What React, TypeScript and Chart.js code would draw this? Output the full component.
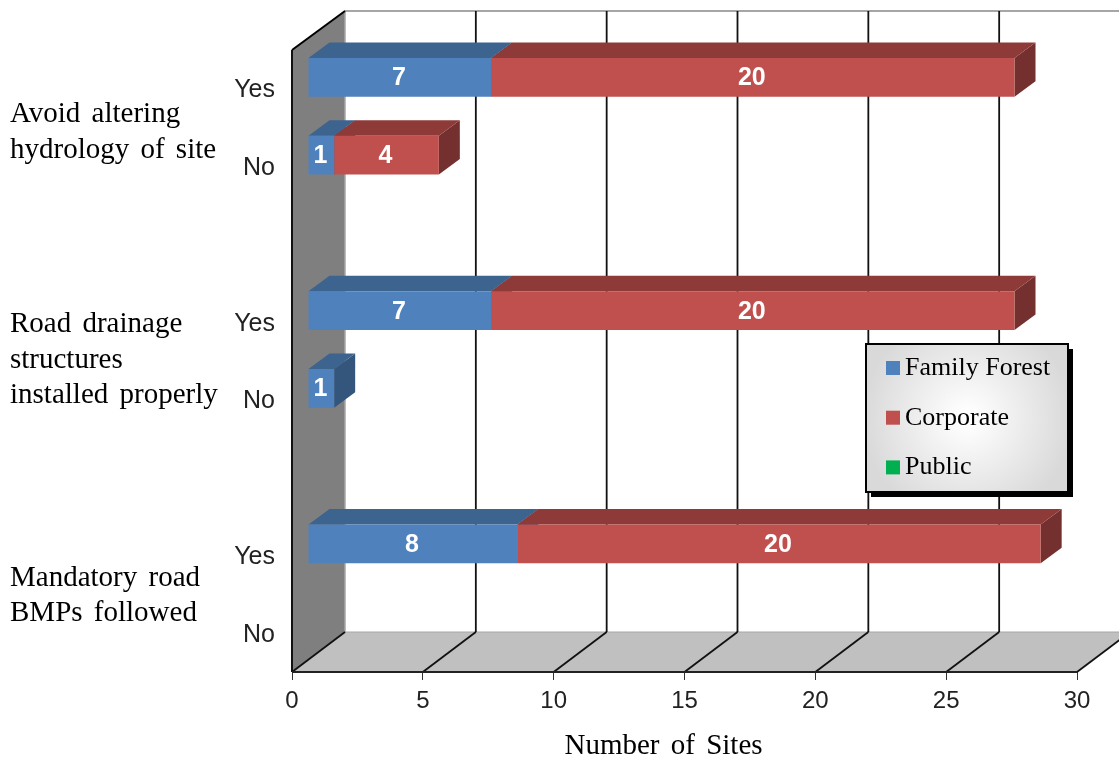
import React, { useEffect, useRef } from "react";
import { Chart, registerables } from "chart.js";

Chart.register(...registerables);

const categories = ["Yes", "No", "", "Yes", "No", "", "Yes", "No"];
const familyForest = [7, 1, null, 7, 1, null, 8, null];
const corporate = [20, 4, null, 20, null, null, 20, null];
const publicSites = [null, null, null, null, null, null, null, null];
const seriesNames = ["Family Forest", "Corporate", "Public"];
const seriesColors = ["#4f81bd", "#c0504d", "#00b050"];
const topColors = ["#3d638f", "#8e3a38", "#00843c"];
const sideColors = ["#34567d", "#73302e", "#00702f"];
const axisTitle = "Number of Sites";
const groupLabels = [
  { lines: ["Avoid altering", "hydrology of site"], ys: [114, 150] },
  { lines: ["Road drainage", "structures", "installed properly"], ys: [324, 360, 395] },
  { lines: ["Mandatory road", "BMPs followed"], ys: [578, 613] },
];

const SERIF = '"Liberation Serif", serif';
const SANS = '"Liberation Sans", sans-serif';
const WALL_DX = 53;
const WALL_DY = 40;
const BAR_SHIFT_X = 16;
const BAR_SHIFT_Y = 11.5;
const BAR_DX = 21;
const BAR_DY = 15.5;

function poly(ctx: CanvasRenderingContext2D, pts: number[][], fill: string) {
  ctx.beginPath();
  pts.forEach((p, i) => (i ? ctx.lineTo(p[0], p[1]) : ctx.moveTo(p[0], p[1])));
  ctx.closePath();
  ctx.fillStyle = fill;
  ctx.fill();
}

function line(ctx: CanvasRenderingContext2D, x1: number, y1: number, x2: number, y2: number, color: string, w: number) {
  ctx.beginPath();
  ctx.moveTo(x1, y1);
  ctx.lineTo(x2, y2);
  ctx.strokeStyle = color;
  ctx.lineWidth = w;
  ctx.stroke();
}

const scenePlugin = {
  id: "scene3d",
  beforeDatasetsDraw(chart: any) {
    const { ctx, chartArea: a, scales } = chart;
    const x = scales.x;
    ctx.save();
    // left wall and floor
    poly(ctx, [[a.left, a.top], [a.left + WALL_DX, a.top - WALL_DY + 1], [a.left + WALL_DX, a.bottom - WALL_DY], [a.left, a.bottom]], "#7f7f7f");
    poly(ctx, [[a.left, a.bottom], [a.left + WALL_DX, a.bottom - WALL_DY], [a.right + WALL_DX, a.bottom - WALL_DY], [a.right, a.bottom]], "#c0c0c0");
    line(ctx, a.left + WALL_DX, a.top - WALL_DY + 1, a.right + WALL_DX, a.top - WALL_DY + 1, "#a6a6a6", 2);
    line(ctx, a.left + WALL_DX, a.top - WALL_DY, a.left + WALL_DX, a.bottom - WALL_DY, "#a6a6a6", 1.5);
    line(ctx, a.left + WALL_DX, a.bottom - WALL_DY, a.right + WALL_DX, a.bottom - WALL_DY, "#a6a6a6", 1);
    // gridlines: back wall then diagonal across floor
    x.ticks.forEach((t: any) => {
      const px = x.getPixelForValue(t.value);
      if (t.value > 0) {
        line(ctx, px + WALL_DX, a.top - WALL_DY + 1, px + WALL_DX, a.bottom - WALL_DY, "#111111", 1.8);
      }
      line(ctx, px, a.bottom, px + WALL_DX, a.bottom - WALL_DY, "#111111", 1.8);
    });
    line(ctx, a.left, a.top, a.left + WALL_DX, a.top - WALL_DY + 1, "#000000", 2);
    line(ctx, a.left, a.top, a.left, a.bottom, "#111111", 2);
    line(ctx, a.left, a.bottom, a.right, a.bottom, "#222222", 1.8);

    // 3D bar faces, with the scene shift applied
    ctx.translate(BAR_SHIFT_X, -BAR_SHIFT_Y);
    chart.data.datasets.forEach((ds: any, i: number) => {
      chart.getDatasetMeta(i).data.forEach((bar: any, j: number) => {
        if (ds.data[j] == null) return;
        const p = bar.getProps(["x", "y", "base", "height"], true);
        const top = p.y - p.height / 2;
        const bottom = p.y + p.height / 2;
        poly(ctx, [[p.x, top], [p.x + BAR_DX, top - BAR_DY], [p.x + BAR_DX, bottom - BAR_DY], [p.x, bottom]], sideColors[i]);
        poly(ctx, [[p.base, top], [p.base + BAR_DX, top - BAR_DY], [p.x + BAR_DX, top - BAR_DY], [p.x, top]], topColors[i]);
      });
    });
  },
  afterDatasetsDraw(chart: any) {
    const { ctx } = chart;
    ctx.textAlign = "center";
    ctx.textBaseline = "middle";
    ctx.font = `bold 25px ${SANS}`;
    ctx.fillStyle = "#ffffff";
    chart.data.datasets.forEach((ds: any, i: number) => {
      chart.getDatasetMeta(i).data.forEach((bar: any, j: number) => {
        if (ds.data[j] == null) return;
        const p = bar.getProps(["x", "y", "base"], true);
        ctx.fillText(String(ds.data[j]), (p.x + p.base) / 2 - 1, p.y + 1);
      });
    });
    ctx.restore();
  },
  afterDraw(chart: any) {
    const { ctx } = chart;
    ctx.save();
    // group labels and axis title
    ctx.font = `29px ${SERIF}`;
    (ctx as any).wordSpacing = "4px";
    ctx.fillStyle = "#000000";
    ctx.textAlign = "left";
    ctx.textBaseline = "middle";
    groupLabels.forEach((g) => g.lines.forEach((l, i) => ctx.fillText(l, 10, g.ys[i])));
    ctx.textAlign = "center";
    ctx.fillText(axisTitle, 663.5, 746);
    (ctx as any).wordSpacing = "0px";
    ctx.textAlign = "left";

    // legend
    const lx = 866, ly = 344, lw = 202, lh = 148;
    ctx.fillStyle = "#000000";
    ctx.fillRect(lx + 5, ly + 5, lw, lh);
    const grad = ctx.createRadialGradient(lx + lw / 2, ly + lh / 2, 5, lx + lw / 2, ly + lh / 2, lw * 0.52);
    grad.addColorStop(0, "#ffffff");
    grad.addColorStop(1, "#d9d9d9");
    ctx.fillStyle = grad;
    ctx.fillRect(lx, ly, lw, lh);
    ctx.strokeStyle = "#000000";
    ctx.lineWidth = 2;
    ctx.strokeRect(lx, ly, lw, lh);
    ctx.font = `26px ${SERIF}`;
    seriesNames.forEach((name, i) => {
      const cy = ly + 24 + i * 49.7;
      ctx.fillStyle = seriesColors[i];
      ctx.fillRect(886, cy - 7, 14, 14);
      ctx.fillStyle = "#000000";
      ctx.fillText(name, 905, cy);
    });
    ctx.restore();
  },
};

export default function App() {
  const ref = useRef<HTMLCanvasElement>(null);
  useEffect(() => {
    const chart = new Chart(ref.current!, {
      type: "bar",
      plugins: [scenePlugin],
      data: {
        labels: categories,
        datasets: [familyForest, corporate, publicSites].map((data, i) => ({
          label: seriesNames[i],
          data,
          backgroundColor: seriesColors[i],
          borderWidth: 0,
          categoryPercentage: 0.5,
          barPercentage: 1,
          clip: false,
        })),
      } as any,
      options: {
        indexAxis: "y",
        responsive: false,
        animation: false,
        devicePixelRatio: 1,
        layout: { autoPadding: false, padding: { left: 0, right: 42, top: 50, bottom: 0 } },
        plugins: { legend: { display: false }, tooltip: { enabled: false } },
        scales: {
          x: {
            stacked: true,
            min: 0,
            max: 30,
            afterFit: (s: any) => { s.height = 85; },
            border: { display: false },
            grid: { drawOnChartArea: false, drawTicks: true, tickLength: 8, color: "#333333", lineWidth: 1 },
            ticks: { stepSize: 5, padding: 7, color: "#222222", maxRotation: 0, font: { family: "Liberation Sans", size: 24 } },
          },
          y: {
            stacked: true,
            afterFit: (s: any) => { s.width = 292; },
            border: { display: false },
            grid: { display: false, drawTicks: false },
            ticks: { autoSkip: false, padding: 17, labelOffset: 1.5, color: "#222222", font: { family: "Liberation Sans", size: 25 } },
          },
        },
      } as any,
    });
    return () => chart.destroy();
  }, []);
  return (
    <canvas
      ref={ref}
      width={1119}
      height={757}
      style={{ position: "fixed", left: 0, top: 0, width: 1119, height: 757, background: "#ffffff" }}
    />
  );
}
